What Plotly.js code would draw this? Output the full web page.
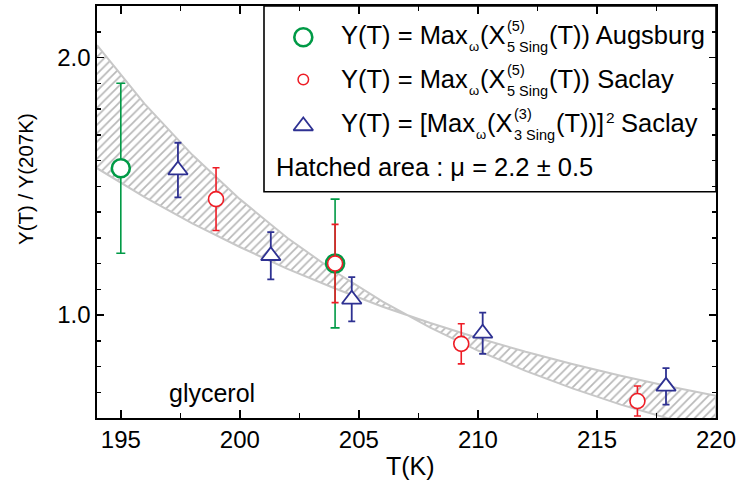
<!DOCTYPE html>
<html><head><meta charset="utf-8">
<script src="https://cdn.plot.ly/plotly-3.0.1.min.js"></script>
<style>html,body{margin:0;padding:0;background:#fff;}#chart{width:737px;height:486px;}</style>
</head><body><div id="chart"></div>
<script>
// ---------- data ----------
const greenT = [195.0, 204.0];
const greenY = [1.57, 1.20];
const greenErr = [0.33, 0.25];

const redT = [199.0, 204.0, 209.3, 216.7];
const redY = [1.45, 1.20, 0.888, 0.666];
const redErr = [0.122, 0.152, 0.078, 0.058];

const blueT = [197.4, 201.3, 204.7, 210.2, 217.9];
const blueY = [1.563, 1.230, 1.061, 0.929, 0.723];
const blueErr = [0.106, 0.092, 0.086, 0.080, 0.071];

// hatched band edges (mu = 2.7 edge and mu = 1.7 edge)
const bandT = [194, 196, 198, 200, 202, 204, 206, 207, 208, 210, 212, 214, 216, 218, 220];
const bandMuHigh = [2.048, 1.820, 1.622, 1.450, 1.299, 1.168, 1.052, 1.000, 0.951, 0.862, 0.783, 0.714, 0.652, 0.598, 0.550];
const bandMuLow  = [1.570, 1.458, 1.356, 1.264, 1.179, 1.103, 1.032, 1.000, 0.969, 0.911, 0.857, 0.809, 0.764, 0.723, 0.686];

const xTickVals = [195, 200, 205, 210, 215, 220];
const xTickText = ['195', '200', '205', '210', '215', '220'];
const yTickVals = [1.0, 2.0];
const yTickText = ['1.0', '2.0'];

const xTitle = 'T(K)';
const yTitle = 'Y(T) / Y(207K)';
const sampleLabel = 'glycerol';
const legendLine1 = ['Y(T) = Max', 'ω', '(X', '(5)', '5 Sing', '(T)) Augsburg'];
const legendLine2 = ['Y(T) = Max', 'ω', '(X', '(5)', '5 Sing', '(T)) Saclay'];
const legendLine3 = ['Y(T) = [Max', 'ω', '(X', '(3)', '3 Sing', '(T))]', '2', 'Saclay'];
const legendLine4 = 'Hatched area : μ = 2.2 ± 0.5';

// ---------- styling / layout ----------
const GREEN = '#009a46', RED = '#ee1c25', BLUE = '#2e3192';
const F = 'Liberation Sans, Arial, sans-serif';
const L = 97, R = 716, T = 6, B = 418, W = 737, H = 486;
const px2x = p => (p - L) / (R - L);
const px2y = p => (B - p) / (B - T);

const ctx = document.createElement('canvas').getContext('2d');
const tw = (s, size) => { ctx.font = size + 'px "Liberation Sans"'; return ctx.measureText(s).width; };

function ann(text, px, base, size, extra) {
  return Object.assign({
    xref: 'paper', yref: 'paper', x: px2x(px), y: px2y(base - 0.3465 * size),
    xanchor: 'left', yanchor: 'middle', text: text, showarrow: false,
    borderpad: 0, borderwidth: 0,
    font: { family: F, size: size, color: '#000' }
  }, extra || {});
}

const MAIN = 25.5, SCR = 14.5, OM = 13;
function legendLine(p, base) {
  const out = [];
  let x = 341;
  out.push(ann(p[0], x, base, MAIN)); x += tw(p[0], MAIN) + 1.5;
  out.push(ann(p[1], x, base + 7.5, OM)); x += tw(p[1], OM) + 0.5;
  out.push(ann(p[2], x, base, MAIN)); x += tw(p[2], MAIN) + 1.5;
  out.push(ann(p[3], x, base - 13, SCR));
  out.push(ann(p[4], x, base + 8, SCR));
  x += Math.max(tw(p[3], SCR), tw(p[4], SCR)) + 1;
  out.push(ann(p[5], x, base, MAIN)); x += tw(p[5], MAIN);
  if (p.length > 6) {
    x += 1.5;
    out.push(ann(p[6], x, base - 9, SCR + 1)); x += tw(p[6], SCR + 1) + tw(' ', MAIN);
    out.push(ann(p[7], x, base, MAIN));
  }
  return out;
}

const annotations = []
  .concat(legendLine(legendLine1, 44))
  .concat(legendLine(legendLine2, 88))
  .concat(legendLine(legendLine3, 132))
  .concat([ann(legendLine4, 276, 175.5, MAIN)])
  .concat([ann(sampleLabel, 169, 401.7, 25)])
  .concat([ann(xTitle, 410, 475, 25, { xanchor: 'center' })])
  .concat([{
    xref: 'paper', yref: 'paper', x: px2x(25), y: px2y(179), xanchor: 'center', yanchor: 'middle',
    text: yTitle, textangle: -90, showarrow: false, borderpad: 0, borderwidth: 0,
    font: { family: F, size: 20.5, color: '#000' }
  }]);

const traces = [
  {
    x: bandT.concat(bandT.slice().reverse()),
    y: bandMuHigh.concat(bandMuLow.slice().reverse()),
    mode: 'lines', fill: 'toself', fillcolor: '#ffffff',
    fillpattern: { shape: '/', fgcolor: '#b8b8b8', bgcolor: '#ffffff', size: 6, solidity: 0.28 },
    line: { color: '#c8c8c8', width: 2 }, hoverinfo: 'skip'
  },
  {
    x: greenT, y: greenY, mode: 'markers',
    marker: { symbol: 'circle', size: 18, color: '#ffffff', line: { color: GREEN, width: 2.6 } },
    error_y: { type: 'data', array: greenErr, visible: true, color: GREEN, thickness: 1.6, width: 4.5 }
  },
  {
    x: redT, y: redY, mode: 'markers',
    marker: { symbol: 'circle', size: 15, color: '#ffffff', line: { color: RED, width: 1.6 } },
    error_y: { type: 'data', array: redErr, visible: true, color: RED, thickness: 1.6, width: 3.5 }
  },
  {
    x: blueT, y: blueY, mode: 'markers',
    marker: { symbol: 'triangle-up', size: 17, color: '#ffffff', line: { color: BLUE, width: 1.8 } },
    error_y: { type: 'data', array: blueErr, visible: true, color: BLUE, thickness: 1.8, width: 3.5 }
  },
  // legend symbols (pixel-coordinate overlay axes)
  { x: [303.3], y: [37.3], xaxis: 'x2', yaxis: 'y2', mode: 'markers',
    marker: { symbol: 'circle', size: 18, color: '#ffffff', line: { color: GREEN, width: 2.6 } } },
  { x: [303.3], y: [79.5], xaxis: 'x2', yaxis: 'y2', mode: 'markers',
    marker: { symbol: 'circle', size: 10.5, color: '#ffffff', line: { color: RED, width: 1.5 } } },
  { x: [303.3], y: [126], xaxis: 'x2', yaxis: 'y2', mode: 'markers',
    marker: { symbol: 'triangle-up', size: 17, color: '#ffffff', line: { color: BLUE, width: 1.8 } } }
];

const axisCommon = {
  ticks: 'inside', tickcolor: '#000', tickwidth: 1.5,
  showline: true, linecolor: '#000', linewidth: 1.6, mirror: 'allticks',
  showgrid: false, zeroline: false,
  tickfont: { family: F, size: 24, color: '#000' }
};

const layout = {
  width: W, height: H,
  margin: { l: L, r: W - R, t: T, b: H - B, pad: 0 },
  paper_bgcolor: '#ffffff', plot_bgcolor: '#ffffff',
  showlegend: false, hovermode: false,
  xaxis: Object.assign({}, axisCommon, {
    range: [194, 220], tickmode: 'array', tickvals: xTickVals, ticktext: xTickText, ticklen: 8,
    minor: { tick0: 195, dtick: 2.5, ticks: 'inside', ticklen: 5, tickwidth: 1.5, tickcolor: '#000', showgrid: false }
  }),
  yaxis: Object.assign({}, axisCommon, {
    range: [0.6, 2.2], tickmode: 'array', tickvals: yTickVals, ticktext: yTickText, ticklen: 7,
    minor: { tick0: 0, dtick: 0.1, ticks: 'inside', ticklen: 4, tickwidth: 1.5, tickcolor: '#000', showgrid: false }
  }),
  xaxis2: { overlaying: 'x', anchor: 'y2', range: [L, R], visible: false, fixedrange: true },
  yaxis2: { overlaying: 'y', anchor: 'x2', range: [B, T], visible: false, fixedrange: true },
  shapes: [{
    type: 'rect', xref: 'paper', yref: 'paper', layer: 'below',
    x0: px2x(264), x1: 1, y0: px2y(191.7), y1: 1,
    line: { color: '#000', width: 1.6 }, fillcolor: '#ffffff'
  }],
  annotations: annotations
};

Plotly.newPlot('chart', traces, layout, { staticPlot: true, displayModeBar: false });
</script>
</body></html>
